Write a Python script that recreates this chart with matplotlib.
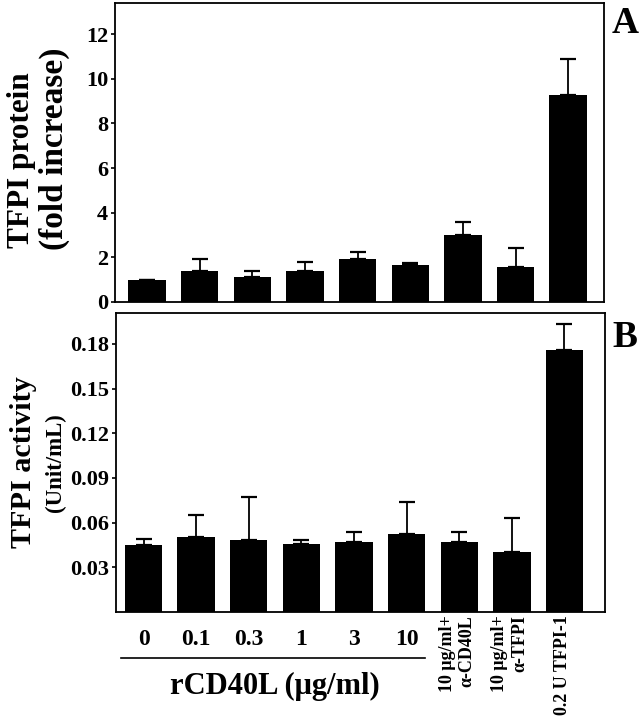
import matplotlib.pyplot as plt
import numpy as np

plt.rcParams['font.family'] = ['Liberation Serif', 'DejaVu Serif']
plt.rcParams['font.weight'] = 'bold'

# data
groups = ['0', '0.1', '0.3', '1', '3', '10',
          '10 \u03bcg/ml+\n\u03b1-CD40L', '10 \u03bcg/ml+\n\u03b1-TFPI', '0.2 U TFPI-1']
protein = [1.0, 1.39, 1.12, 1.40, 1.91, 1.67, 2.99, 1.56, 9.27]
protein_err = [0.0, 0.54, 0.26, 0.41, 0.33, 0.09, 0.58, 0.85, 1.63]
activity = [0.0453, 0.0502, 0.0486, 0.0457, 0.0471, 0.0522, 0.0473, 0.0404, 0.1758]
activity_err = [0.0035, 0.0150, 0.0289, 0.0025, 0.0067, 0.0215, 0.0065, 0.0225, 0.0174]

x = np.arange(len(groups))
fig = plt.figure(figsize=(6.4, 7.19), dpi=100)

axA = fig.add_axes([0.1797, 0.580, 0.764, 0.416])
axB = fig.add_axes([0.1813, 0.1488, 0.764, 0.4163])

err_kw = dict(ecolor='black', elinewidth=1.3, capsize=6, capthick=1.6)

# panel A
axA.bar(x, protein, width=0.71, color='black',
        yerr=[np.zeros(len(x)), protein_err], error_kw=err_kw)
axA.set_ylim(0, 13.4)
axA.set_xlim(-0.61, 8.68)
axA.set_yticks(np.arange(0, 13, 2))
axA.set_xticks([])

# panel B
axB.bar(x, activity, width=0.71, color='black',
        yerr=[np.zeros(len(x)), activity_err], error_kw=err_kw)
axB.set_ylim(0, 0.201)
axB.set_xlim(-0.523, 8.77)
axB.set_yticks([0.03, 0.06, 0.09, 0.12, 0.15, 0.18])
axB.set_yticklabels(['0.03', '0.06', '0.09', '0.12', '0.15', '0.18'])
axB.set_xticks(x[:6])
axB.set_xticklabels(groups[:6])
axB.tick_params(axis='x', length=0, pad=12, labelsize=17)

tr = axB.get_xaxis_transform()
for xi, lab in zip(x[6:], groups[6:]):
    axB.text(xi - 0.04, -0.012, lab, transform=tr, rotation=90, ha='center',
             va='top', multialignment='right', fontsize=13, fontweight='bold')

for ax in (axA, axB):
    ax.tick_params(axis='y', labelsize=16, length=3, width=1.2, pad=2)
    for s in ax.spines.values():
        s.set_linewidth(1.3)

# underline and label for rCD40L doses
axB.plot([-0.43, 5.35], [-0.155, -0.155], color='black', lw=1.2,
         transform=tr, clip_on=False)
axB.text(2.5, -0.249, 'rCD40L (\u03bcg/ml)', transform=tr, ha='center',
         va='center', fontsize=22, fontweight='bold')

# y labels
fig.text(0.033, 0.655, 'TFPI protein', rotation=90, ha='center', va='bottom',
         fontsize=22.5, fontweight='bold')
fig.text(0.085, 0.652, '(fold increase)', rotation=90, ha='center', va='bottom',
         fontsize=24, fontweight='bold')
fig.text(0.036, 0.357, 'TFPI activity', rotation=90, ha='center', va='center',
         fontsize=21.7, fontweight='bold')
fig.text(0.086, 0.357, '(Unit/mL)', rotation=90, ha='center', va='center',
         fontsize=16.5, fontweight='bold')

# panel letters
fig.text(0.977, 0.968, 'A', ha='center', va='center', fontsize=27, fontweight='bold')
fig.text(0.977, 0.530, 'B', ha='center', va='center', fontsize=27, fontweight='bold')

fig.savefig('out.png', dpi=100)
